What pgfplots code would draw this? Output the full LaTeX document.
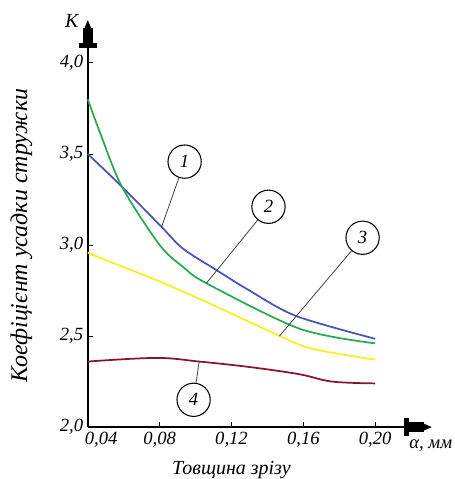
\documentclass[border=0pt]{standalone}
\usepackage{fontspec}
\setmainfont{Liberation Serif}
\usepackage{pgfplots}
\pgfplotsset{compat=1.18}
\usetikzlibrary{arrows.meta}
\definecolor{cblue}{RGB}{72,82,185}
\definecolor{cgreen}{RGB}{40,170,80}
\definecolor{cyellow}{RGB}{245,240,30}
\definecolor{cred}{RGB}{135,20,45}
\begin{document}
\begin{tikzpicture}
\begin{axis}[
  scale only axis, width=258.75pt, height=306pt,
  xmin=0.04, xmax=0.2317, ymin=2.0, ymax=4.236,
  axis lines=left,
  axis line style={line width=1.4pt, -{Rectangle[length=4pt,width=14pt] Rectangle[length=11pt,width=7.5pt] Triangle[length=6pt,width=4.5pt]}},
  xtick={0.04,0.08,0.12,0.16,0.20},
  xticklabels={{\hspace{20pt}0,04},{0,08},{0,12},{0,16},{0,20}},
  ytick={2.0,2.5,3.0,3.5,4.0},
  yticklabels={{2,0},{2,5},{3,0},{3,5},{4,0}},
  tick align=inside, major tick length=4pt,
  tick style={black, line width=0.7pt},
  ticklabel style={font=\itshape\fontsize{14}{14}\selectfont},
  clip=false,
]
\addplot[cblue, line width=1.3pt, smooth, tension=0.5] coordinates {
 (0.04,3.50) (0.059,3.32) (0.081,3.10) (0.093,2.98) (0.112,2.86) (0.130,2.75) (0.156,2.61) (0.20,2.485)};
\addplot[cgreen, line width=1.3pt, smooth, tension=0.5] coordinates {
 (0.04,3.80) (0.0467,3.62) (0.059,3.32) (0.080,3.00) (0.093,2.88) (0.106,2.79) (0.158,2.54) (0.20,2.46)};
\addplot[cyellow, line width=1.3pt, smooth, tension=0.5] coordinates {
 (0.04,2.96) (0.0467,2.93) (0.080,2.80) (0.112,2.66) (0.147,2.50) (0.165,2.43) (0.20,2.37)};
\addplot[cred, line width=1.3pt, smooth, tension=0.6] coordinates {
 (0.04,2.36) (0.078,2.38) (0.102,2.36) (0.130,2.33) (0.158,2.29) (0.176,2.25) (0.20,2.24)};
% annotations
\tikzset{lab/.style={circle, draw, line width=0.8pt, minimum size=25pt, inner sep=0pt, fill=white, font=\itshape\fontsize{14}{14}\selectfont}}
\draw[black!75, line width=0.6pt] (axis cs:0.0939,3.458) -- (axis cs:0.0811,3.10);
\node[lab] at (axis cs:0.0939,3.458) {1};
\draw[black!75, line width=0.6pt] (axis cs:0.1406,3.21) -- (axis cs:0.106,2.79);
\node[lab] at (axis cs:0.1406,3.21) {2};
\draw[black!75, line width=0.6pt] (axis cs:0.193,3.04) -- (axis cs:0.1467,2.50);
\node[lab] at (axis cs:0.193,3.04) {3};
\draw[black!75, line width=0.6pt] (axis cs:0.0989,2.15) -- (axis cs:0.102,2.36);
\node[lab] at (axis cs:0.0989,2.15) {4};
% axis texts
\node[inner sep=0pt, font=\itshape\fontsize{15}{15}\selectfont] at (rel axis cs:0,1) [xshift=-12pt, yshift=-1pt] {K};
\node[inner sep=0pt, font=\itshape\fontsize{14}{14}\selectfont] at (rel axis cs:1,0) [xshift=-1pt, yshift=-14pt] {α, мм};
\node[inner sep=0pt, font=\itshape\fontsize{15}{15}\selectfont] at (rel axis cs:0.417,0) [yshift=-32pt] {Товщина зрізу};
\node[inner sep=0pt, xshift=-50pt, rotate=90, font=\itshape\fontsize{18}{18}\selectfont] at (rel axis cs:0,0.47) {Коефіцієнт усадки стружки};
% bounding box extents
\path (rel axis cs:0,0) ++(-66pt,-39pt);
\path (rel axis cs:1,1) ++(17pt,15pt);
\end{axis}
\end{tikzpicture}
\end{document}
